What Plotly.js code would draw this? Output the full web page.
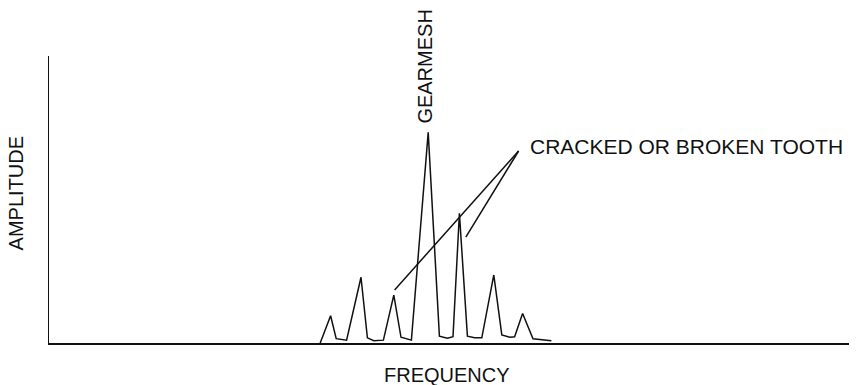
<!DOCTYPE html>
<html>
<head>
<meta charset="utf-8">
<script src="https://cdn.plot.ly/plotly-3.0.1.min.js"></script>
<style>html,body{margin:0;padding:0;background:#fff;}#chart{width:856px;height:385px;}</style>
</head>
<body>
<div id="chart"></div>
<script>
// Spectrum (arbitrary frequency / amplitude units)
const frequency = [33.9, 35.2, 35.9, 37.2, 39.0, 39.8, 40.6, 41.8, 43.1, 44.0, 45.3, 47.4, 48.8, 49.8, 50.5, 51.3, 52.3, 53.2, 54.1, 55.6, 56.6, 57.6, 58.2, 59.2, 60.5, 61.7, 62.8];
const amplitude = [0.0, 9.5, 1.5, 1.0, 22.9, 1.8, 0.8, 1.0, 16.7, 2.0, 1.0, 73.4, 2.4, 1.7, 2.2, 45.2, 2.4, 1.8, 1.8, 23.7, 2.8, 2.0, 2.2, 10.3, 1.5, 1.0, 0.8];
// Callout leader lines (apex -> sideband peaks)
const calloutX = [58.7, 43.2, null, 58.7, 52.1];
const calloutY = [66.9, 18.5, null, 66.9, 36.9];
// Labels
const gearmeshLabel = "GEARMESH";
const gearmeshX = 47.0;
const toothLabel = "CRACKED OR BROKEN TOOTH";
const toothX = 59.9, toothY = 68.6;
const xLabel = "FREQUENCY";
const yLabel = "AMPLITUDE";

const font = {family: "Liberation Sans, Arial, sans-serif", size: 20, color: "#111"};
const toothFont = {family: "Liberation Sans, Arial, sans-serif", size: 21, color: "#111"};

const traces = [
  {x: frequency, y: amplitude, type: "scatter", mode: "lines",
   line: {color: "#111", width: 1.5}, hoverinfo: "skip"},
  {x: calloutX, y: calloutY, type: "scatter", mode: "lines",
   line: {color: "#111", width: 1.5}, hoverinfo: "skip", connectgaps: false}
];

const layout = {
  width: 856, height: 385,
  margin: {l: 49, r: 7, t: 56, b: 42},
  paper_bgcolor: "#fff", plot_bgcolor: "#fff",
  showlegend: false,
  font: font,
  xaxis: {range: [0, 100], showgrid: false, zeroline: false, showticklabels: false, ticks: "",
          showline: true, linecolor: "#111", linewidth: 1.5, fixedrange: true},
  yaxis: {range: [0, 100], showgrid: false, zeroline: false, showticklabels: false, ticks: "",
          showline: true, linecolor: "#111", linewidth: 1.5, fixedrange: true},
  annotations: [
    {text: gearmeshLabel, x: gearmeshX, y: 0.963, xref: "x", yref: "paper", textangle: -90,
     showarrow: false, xanchor: "center", yanchor: "middle", font: font},
    {text: toothLabel, x: toothX, y: toothY, xref: "x", yref: "y",
     showarrow: false, xanchor: "left", yanchor: "middle", font: toothFont},
    {text: xLabel, x: 0.497, y: -0.11, xref: "paper", yref: "paper",
     showarrow: false, xanchor: "center", yanchor: "middle", font: font},
    {text: yLabel, x: -0.041, y: 0.522, xref: "paper", yref: "paper", textangle: -90,
     showarrow: false, xanchor: "center", yanchor: "middle", font: font}
  ]
};

Plotly.newPlot("chart", traces, layout, {staticPlot: true, displayModeBar: false});
</script>
</body>
</html>
